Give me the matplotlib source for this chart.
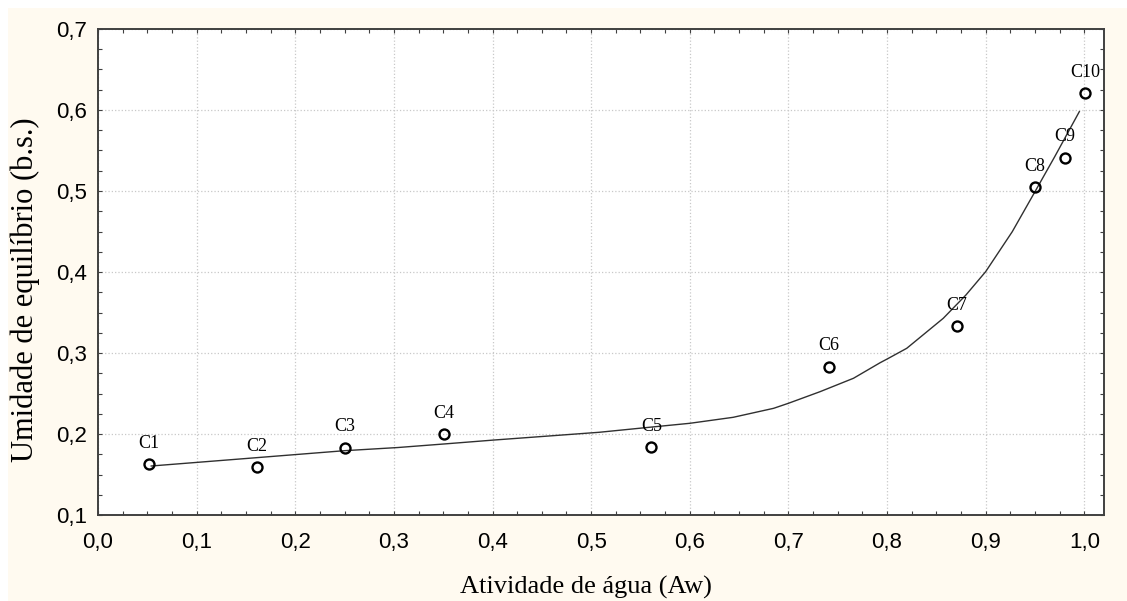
import matplotlib
matplotlib.use("Agg")
from matplotlib import pyplot as plt
from matplotlib.patches import Rectangle
from matplotlib.ticker import MultipleLocator, FuncFormatter

# measured points
labels = ['C1', 'C2', 'C3', 'C4', 'C5', 'C6', 'C7', 'C8', 'C9', 'C10']
aw = [0.052, 0.161, 0.250, 0.351, 0.561, 0.741, 0.871, 0.950, 0.980, 1.001]
umidade = [0.163, 0.159, 0.183, 0.200, 0.184, 0.283, 0.333, 0.505, 0.541, 0.621]

# fitted curve
curve_aw = [0.054, 0.160, 0.250, 0.304, 0.351, 0.402, 0.508, 0.559, 0.600, 0.644,
            0.685, 0.700, 0.732, 0.766, 0.793, 0.800, 0.820, 0.857, 0.880, 0.900,
            0.927, 0.950, 0.970, 0.995]
curve_um = [0.1605, 0.1707, 0.1794, 0.1833, 0.1877, 0.1926, 0.2021, 0.2083, 0.2132, 0.2206,
            0.2317, 0.2379, 0.2522, 0.2688, 0.2880, 0.2925, 0.3058, 0.3428, 0.3716, 0.4004,
            0.4498, 0.4991, 0.5423, 0.5980]

cream = '#fffaf0'
serif = 'Liberation Serif'
sans = 'Liberation Sans'

fig = plt.figure(figsize=(11.27, 6.01), dpi=100)
fig.patch.set_facecolor('white')
fig.patches.append(Rectangle((8 / 1127, 0), 1, 1 - 8 / 601, transform=fig.transFigure,
                             facecolor=cream, edgecolor='none', zorder=-10))

ax = fig.add_axes([98 / 1127, 86 / 601, 1006 / 1127, 486 / 601])
ax.set_facecolor('white')

ax.plot(curve_aw, curve_um, color='#303030', lw=1.0, zorder=2)
ax.plot(aw, umidade, 'o', ms=7.2, mfc='none', mec='black', mew=1.7, zorder=3)
for lab, x, y in zip(labels, aw, umidade):
    ax.annotate(lab, (x, y), xytext=(0, 15), textcoords='offset points',
                ha='center', va='center', fontsize=13, family=serif, zorder=4)

ax.set_xlim(0, 1.02)
ax.set_ylim(0.1, 0.7)
ax.xaxis.set_major_locator(MultipleLocator(0.1))
ax.xaxis.set_minor_locator(MultipleLocator(0.025))
ax.yaxis.set_major_locator(MultipleLocator(0.1))
ax.yaxis.set_minor_locator(MultipleLocator(0.025))
comma = FuncFormatter(lambda v, p: ('%.1f' % v).replace('.', ','))
ax.xaxis.set_major_formatter(comma)
ax.yaxis.set_major_formatter(comma)

ax.tick_params(which='both', direction='in', top=True, right=True, length=3,
               width=0.8, color='#404040')
ax.tick_params(which='major', labelsize=16)
ax.tick_params(axis='x', which='major', pad=12)
ax.tick_params(axis='y', which='major', pad=8)
for t in ax.get_xticklabels() + ax.get_yticklabels():
    t.set_family(sans)

ax.grid(True, which='major', ls=':', color='#c8c8c8', lw=0.9)
for s in ax.spines.values():
    s.set_color('#404040')
    s.set_linewidth(1.4)

ax.set_xlabel('Atividade de água (Aw)', fontsize=19, family=serif)
ax.xaxis.set_label_coords(0.485, -0.125)
fig.text(25 / 1127, 1 - 290 / 601, 'Umidade de equilíbrio (b.s.)', rotation=90,
         ha='center', va='center', fontsize=22, family=serif)

fig.savefig('out.png', dpi=100, facecolor=fig.get_facecolor())
